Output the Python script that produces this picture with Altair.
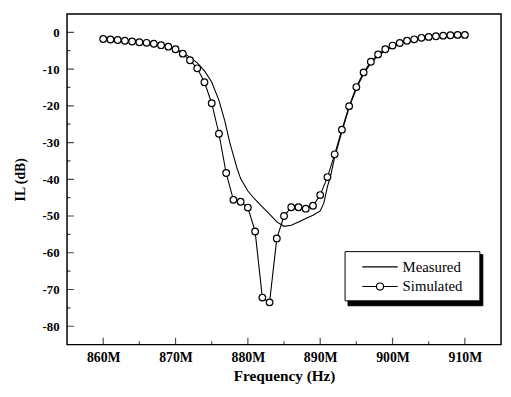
import altair as alt
import pandas as pd

# ---------------- data ----------------
sim_freq = list(range(860, 911))
sim_il = [
    -1.8, -1.95, -2.1, -2.3, -2.5, -2.7, -2.85, -3.1, -3.5, -3.9,      # 860-869
    -4.6, -5.8, -7.6, -9.8, -13.6, -19.3, -27.6,                       # 870-876
    -38.3, -45.6, -46.1, -47.7, -54.2, -72.2, -73.5, -56.1, -50.0,     # 877-885
    -47.6, -47.6, -48.0, -47.2, -44.3, -39.4,                          # 886-891
    -33.2, -26.5, -20.1, -14.9, -10.9, -8.0, -6.0, -4.6, -3.6, -2.9,   # 892-901
    -2.3, -1.9, -1.5, -1.25, -1.07, -0.9, -0.8, -0.7, -0.7,            # 902-910
]

meas_freq = [860, 862, 864, 866, 868, 870, 871, 872, 873, 874, 875, 876, 876.8,
             877.5, 878, 878.5, 879, 880, 881, 882, 883, 884, 885, 886, 887,
             888, 889, 890, 890.5, 891, 891.5, 892, 893, 894, 895, 896, 897,
             898, 899, 900, 901, 902, 903, 904, 905, 906, 907, 908, 909, 910]
meas_il = [-1.8, -2.1, -2.5, -2.9, -3.5, -4.5, -5.5, -6.8, -8.3, -10.5, -13.5,
           -18.5, -24.0, -30.0, -33.5, -37.0, -39.8, -43.2, -45.5, -47.5, -49.5,
           -51.6, -52.8, -52.5, -51.6, -50.7, -49.8, -48.6, -46.5, -42.0, -38.5,
           -34.0, -27.0, -20.5, -15.3, -11.3, -8.4, -6.4, -5.0, -3.9, -3.1, -2.5,
           -2.1, -1.7, -1.4, -1.2, -1.0, -0.9, -0.8, -0.7]

series_names = ["Measured", "Simulated"]
x_major = [860, 870, 880, 890, 900, 910]
x_minor = [865, 875, 885, 895, 905]
y_major = [0, -10, -20, -30, -40, -50, -60, -70, -80]
y_minor = [-5, -15, -25, -35, -45, -55, -65, -75]

FONT = "Liberation Serif"

sim_df = pd.DataFrame({"f": sim_freq, "il": sim_il, "series": "Simulated"})
meas_df = pd.DataFrame({"f": meas_freq, "il": meas_il, "series": "Measured"})

xs = alt.Scale(domain=[855, 915], nice=False, zero=False)
ys = alt.Scale(domain=[-85, 5], nice=False, zero=False)

x_enc = alt.X("f:Q", scale=xs, title="Frequency (Hz)",
              axis=alt.Axis(values=x_major, labelExpr="datum.value + 'M'",
                            grid=False, ticks=False, domain=False,
                            labelFontSize=14, titleFontSize=15.5,
                            labelPadding=6, titlePadding=4))
y_enc = alt.Y("il:Q", scale=ys, title="IL (dB)",
              axis=alt.Axis(values=y_major, labelExpr="'' + datum.value",
                            grid=False, ticks=False, domain=False,
                            labelFontSize=13, titleFontSize=14,
                            labelPadding=8, titlePadding=15))

meas_line = alt.Chart(meas_df).mark_line(color="black", strokeWidth=1.1).encode(
    x=x_enc, y=y_enc)
sim_line = alt.Chart(sim_df).mark_line(color="black", strokeWidth=1.1).encode(
    x=x_enc, y=y_enc)
sim_pts = alt.Chart(sim_df).mark_point(
    shape="circle", size=46, filled=False, fill="white", fillOpacity=1,
    color="black", strokeWidth=1.2, opacity=1).encode(x=x_enc, y=y_enc)

meas_sym = "M-2,0L2,0"
sim_sym = ("M-2,0L-0.4,0M0.4,0L2,0M0.4,0A0.4,0.4,0,1,1,-0.4,0"
           "A0.4,0.4,0,1,1,0.4,0")

LX, LY = 282, 241

legend_common = dict(title="\u00a0", titleOrient="right", titlePadding=11,
                     titleFontSize=15, orient="none", padding=6, symbolOffset=20,
                     rowPadding=2, symbolSize=324, labelFont=FONT,
                     labelFontSize=15)

# shadow box of the legend (drawn first, offset right/down)
shadow_layer = alt.Chart(sim_df).transform_filter("false").mark_point(
    filled=False, opacity=1).encode(
    x=x_enc, y=y_enc,
    fill=alt.Fill("series:N",
                  scale=alt.Scale(domain=series_names, range=["black", "black"]),
                  legend=alt.Legend(legendX=LX + 3, legendY=LY + 3,
                                    strokeColor="black", fillColor="black",
                                    symbolOpacity=0, labelExpr="''",
                                    labelOffset=74, **legend_common)))

legend_layer = alt.Chart(sim_df).transform_filter("false").mark_point(
    filled=False, color="black", opacity=1).encode(
    x=x_enc, y=y_enc,
    shape=alt.Shape("series:N",
                    scale=alt.Scale(domain=series_names, range=[meas_sym, sim_sym]),
                    legend=alt.Legend(legendX=LX, legendY=LY,
                                      strokeColor="black", fillColor="white",
                                      symbolStrokeColor="black",
                                      symbolStrokeWidth=1.1, labelColor="black",
                                      labelOffset=13, **legend_common)))

xt_major = alt.Chart(pd.DataFrame({"f": x_major})).mark_tick(
    orient="vertical", size=14, thickness=1.2, color="black", clip=True).encode(
    x=alt.X("f:Q", scale=xs), y=alt.datum(-85))
xt_minor = alt.Chart(pd.DataFrame({"f": x_minor})).mark_tick(
    orient="vertical", size=7, thickness=1.2, color="black", clip=True).encode(
    x=alt.X("f:Q", scale=xs), y=alt.datum(-85))
yt_major = alt.Chart(pd.DataFrame({"il": y_major})).mark_tick(
    orient="horizontal", size=14, thickness=1.2, color="black", clip=True).encode(
    y=alt.Y("il:Q", scale=ys), x=alt.datum(855))
yt_minor = alt.Chart(pd.DataFrame({"il": y_minor})).mark_tick(
    orient="horizontal", size=7, thickness=1.2, color="black", clip=True).encode(
    y=alt.Y("il:Q", scale=ys), x=alt.datum(855))

chart = alt.layer(
    meas_line, sim_line, sim_pts, shadow_layer, legend_layer,
    xt_major, xt_minor, yt_major, yt_minor,
).resolve_scale(fill="independent", shape="independent").properties(
    width=441, height=336,
    autosize=alt.AutoSizeParams(type="none"),
    padding={"left": 60, "top": 3, "right": 2, "bottom": 40},
    background="white",
).configure_view(
    stroke="black", strokeWidth=1.5, fill="white"
).configure_axis(
    labelFont=FONT, labelFontWeight="bold", labelColor="black",
    titleFont=FONT, titleFontWeight="bold", titleColor="black",
)

chart.save("out.html", embed_options={"renderer": "svg", "actions": False})
